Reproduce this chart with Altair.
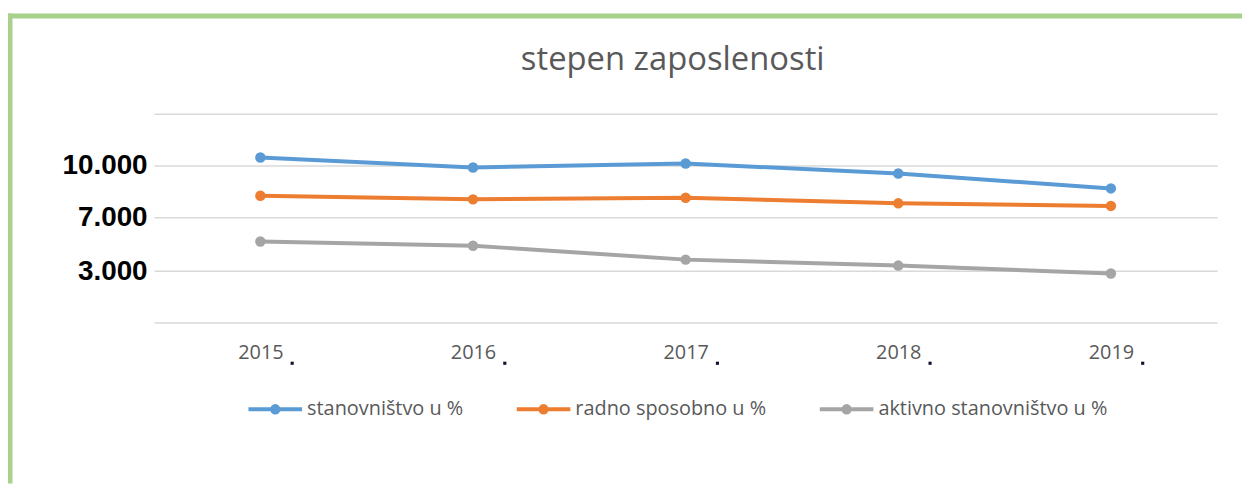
import altair as alt
import pandas as pd

years = ["2015", "2016", "2017", "2018", "2019"]
series_names = ["stanovništvo u %", "radno sposobno u %", "aktivno stanovništvo u %"]
stanovnistvo = [10450, 9870, 10100, 9520, 8660]
radno_sposobno = [8240, 8030, 8120, 7800, 7650]
aktivno = [5200, 4890, 3860, 3420, 2870]
y_ticks = [0, 3000, 7000, 10000, 13000]
colors = ["#5B9BD5", "#ED7D31", "#A5A5A5"]

rows = []
for name, vals in zip(series_names, [stanovnistvo, radno_sposobno, aktivno]):
    for yr, v in zip(years, vals):
        rows.append({"godina": yr, "serija": name, "vrijednost": v})
df = pd.DataFrame(rows)

H = 210
W = 1070

legend_path = ("M-1,0L1,0M-0.12,0A0.12,0.12,0,1,1,0.12,0"
               "A0.12,0.12,0,1,1,-0.12,0")

x_enc = alt.X("godina:N", sort=years, title=None,
              scale=alt.Scale(type="point", padding=0.5),
              axis=alt.Axis(labelAngle=0, labelFont="Open Sans", labelFontSize=20,
                            labelColor="#595959", labelPadding=20, ticks=False,
                            domain=False, grid=False))

lines = alt.Chart(df).mark_line(
    strokeWidth=4,
    point=alt.OverlayMarkDef(size=110, filled=True, opacity=1),
).encode(
    x=x_enc,
    y=alt.Y("vrijednost:Q", title=None,
            scale=alt.Scale(domain=y_ticks, range=[H, 158.4, 104, 51.7, 0],
                            nice=False, zero=False),
            axis=alt.Axis(values=y_ticks, grid=True, gridColor="#D9D9D9",
                          gridWidth=1.5, domain=False, ticks=False,
                          labelFont="Liberation Sans", labelFontSize=28,
                          labelFontWeight="bold", labelColor="#000000",
                          labelPadding=7,
                          labelExpr="(datum.value == 0 || datum.value == 13000) ? '' : replace(format(datum.value, ','), ',', '.')")),
    color=alt.Color("serija:N", sort=series_names, title=None,
                    scale=alt.Scale(domain=series_names, range=colors),
                    legend=alt.Legend(orient="none", legendX=93, legendY=268,
                                      direction="horizontal",
                                      symbolType=legend_path, symbolSize=2916,
                                      symbolStrokeWidth=4, labelOffset=3,
                                      columnPadding=45, labelLimit=400,
                                      labelFont="Open Sans", labelFontSize=20,
                                      labelColor="#595959")),
)

dots = alt.Chart(pd.DataFrame({"godina": years})).mark_square(
    size=10, color="#111133", opacity=1, xOffset=32
).encode(x=alt.X("godina:N", sort=years), y=alt.value(251))

title_df = pd.DataFrame({"naslov": ["stepen zaposlenosti"]})
title = alt.Chart(title_df).mark_text(
    font="Open Sans", fontSize=33, color="#595959", align="center",
    baseline="middle"
).encode(text="naslov:N", x=alt.value(522), y=alt.value(-54))

border_df = pd.DataFrame({"k": [0]})
left_border = alt.Chart(border_df).mark_rule(color="#A9D18E", strokeWidth=5).encode(
    x=alt.value(-145), y=alt.value(-101), y2=alt.value(372))
top_border = alt.Chart(border_df).mark_rule(color="#A9D18E", strokeWidth=5).encode(
    y=alt.value(-98.5), x=alt.value(-147.5), x2=alt.value(1095))

chart = alt.layer(lines, dots, title, left_border, top_border).properties(
    width=W, height=H,
    autosize=alt.AutoSizeParams(type="none"),
    padding={"left": 147, "top": 105, "right": 33, "bottom": 162},
).configure(background="white").configure_view(stroke=None)

chart.save("out.html", embed_options={"renderer": "svg", "actions": False})
